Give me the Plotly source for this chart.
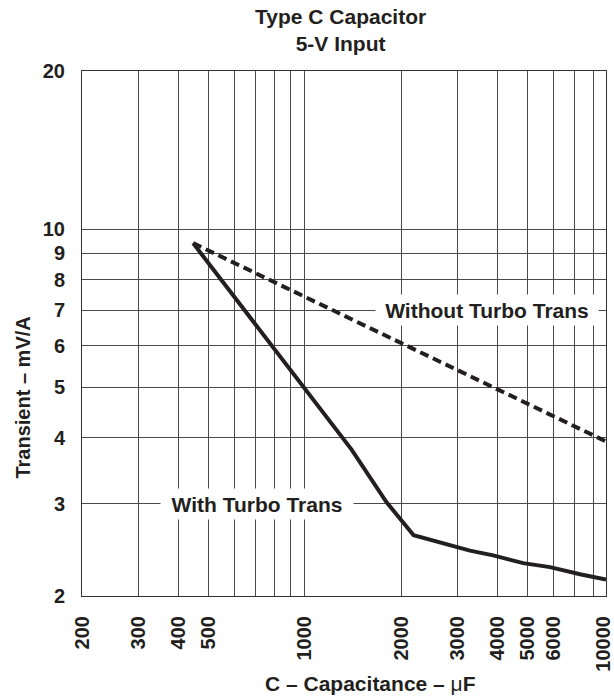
import numpy as np
import plotly.graph_objects as go

# ---- data ----
with_turbo_x = [446, 1000, 1400, 1800, 2190, 3290, 3890, 4830, 5860, 7280, 8780]
with_turbo_y = [9.4, 4.95, 3.80, 3.02, 2.61, 2.44, 2.39, 2.31, 2.27, 2.20, 2.15]

without_turbo_x = [446, 2000, 8780]
without_turbo_y = [9.4, 6.07, 3.94]

x_tick_vals = [200, 300, 400, 500, 1000, 2000, 3000, 4000, 5000, 6000, 8600]
x_tick_text = ["200", "300", "400", "500", "1000", "2000", "3000", "4000", "5000", "6000", "10000"]
x_grid_vals = [300, 400, 500, 600, 700, 800, 900, 1000, 2000, 3000, 4000, 5000, 6000, 7000, 8000]
x_range = [200, 8782]

y_tick_vals = [2, 3, 4, 5, 6, 7, 8, 9, 10, 20]
y_tick_text = ["2", "3", "4", "5", "6", "7", "8", "9", "10", "20"]
y_range = [2, 20]

title_lines = ["Type C Capacitor", "5-V Input"]
x_title = "C – Capacitance – <span style='font-weight:normal'>μ</span>F"
y_title = "Transient – mV/A"
label_with = ("With Turbo Trans", 708, 3)
label_without = ("Without Turbo Trans", 3721, 7)

# ---- styling ----
INK = "#231f20"
GRID = "#4a4a4a"
FONT = "Liberation Sans, Arial, sans-serif"

fig = go.Figure()
fig.add_trace(go.Scatter(
    x=without_turbo_x, y=without_turbo_y, mode="lines",
    line=dict(color=INK, width=4, dash="9px,5px"), showlegend=False,
))
fig.add_trace(go.Scatter(
    x=with_turbo_x, y=with_turbo_y, mode="lines",
    line=dict(color=INK, width=4), showlegend=False,
))

fig.update_layout(
    width=614, height=698,
    margin=dict(l=82, r=8, t=71, b=102, autoexpand=False),
    paper_bgcolor="white", plot_bgcolor="white",
    font=dict(family=FONT, color=INK, size=20, weight=700),
)

fig.update_xaxes(
    type="log", range=[np.log10(x_range[0]), np.log10(x_range[1])],
    tickmode="array", tickvals=x_tick_vals, ticktext=x_tick_text,
    tickangle=-90, ticks="outside", ticklen=0, ticklabelstandoff=11,
    ticklabeloverflow="allow",
    tickfont=dict(family=FONT, size=20, color=INK, weight=700),
    showgrid=False,
    minor=dict(tickmode="array", tickvals=x_grid_vals, showgrid=True,
               gridcolor=GRID, gridwidth=1, ticks=""),
    showline=True, linecolor="#333333", linewidth=1, mirror=True,
    zeroline=False, automargin=False,
)
fig.update_yaxes(
    type="log", range=[np.log10(y_range[0]), np.log10(y_range[1])],
    tickmode="array", tickvals=y_tick_vals, ticktext=y_tick_text,
    ticks="outside", ticklen=0, ticklabelstandoff=12,
    tickfont=dict(family=FONT, size=20, color=INK, weight=700),
    showgrid=True, gridcolor=GRID, gridwidth=1,
    showline=True, linecolor="#333333", linewidth=1, mirror=True,
    zeroline=False, automargin=False,
)

annots = []
# title (two lines)
annots.append(dict(text="<br>".join(title_lines), xref="paper", yref="paper",
                   x=0.4924, y=1.079, xanchor="center", yanchor="middle",
                   showarrow=False, align="center",
                   font=dict(family=FONT, size=21, color=INK, weight=700)))
# axis titles
annots.append(dict(text=x_title, xref="paper", yref="paper", x=0.5515, y=-0.1676,
                   xanchor="center", yanchor="middle", showarrow=False,
                   font=dict(family=FONT, size=21, color=INK, weight=700)))
annots.append(dict(text=y_title, xref="paper", yref="paper", x=-0.1126, y=0.378,
                   xanchor="center", yanchor="middle", showarrow=False, textangle=-90,
                   font=dict(family=FONT, size=20, color=INK, weight=700)))
# curve labels with white boxes
for (txt, lx, ly), w in ((label_with, 190), (label_without, 220)):
    annots.append(dict(text=txt, x=np.log10(lx), y=np.log10(ly), xref="x", yref="y",
                       xanchor="center", yanchor="middle", showarrow=False,
                       bgcolor="white", width=w, height=28,
                       font=dict(family=FONT, size=21, color=INK, weight=700)))
fig.update_layout(annotations=annots)

fig.write_html("out.html", config={"displayModeBar": False},
               post_script="document.body.style.margin='0px';")
